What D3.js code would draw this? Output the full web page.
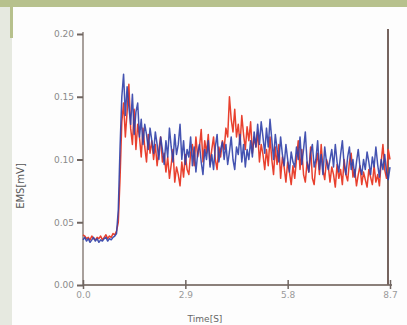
<!DOCTYPE html>
<html>
<head>
<meta charset="utf-8">
<script src="https://cdn.jsdelivr.net/npm/d3@7"></script>
<style>
  body { margin: 0; background: #fdfdfd; }
  svg { display: block; }
</style>
</head>
<body>
<div id="my_dataviz"></div>
<script>
// Data (time in seconds, step 0.05 s; EMS in mV)
var times = d3.range(0, 175).map(function(i) { return +(i * 0.05).toFixed(2); });

var redValues = [
  0.040, 0.039, 0.037, 0.038, 0.036, 0.039, 0.037, 0.036, 0.038, 0.037, 0.039, 0.036, 0.038, 0.040, 0.037, 0.039, 0.038, 0.041, 0.040, 0.043,
  0.050, 0.085, 0.130, 0.145, 0.118, 0.138, 0.160, 0.125, 0.112, 0.140, 0.108, 0.128, 0.118, 0.102, 0.125, 0.110, 0.098, 0.120, 0.105, 0.115,
  0.100, 0.112, 0.095, 0.108, 0.118, 0.098, 0.105, 0.090, 0.102, 0.085, 0.096, 0.108, 0.082, 0.094, 0.088, 0.079, 0.098, 0.086, 0.104, 0.092,
  0.088, 0.105, 0.112, 0.095, 0.118, 0.102, 0.110, 0.124, 0.098, 0.115, 0.105, 0.120, 0.096, 0.108, 0.118, 0.100, 0.092, 0.110, 0.102, 0.115,
  0.108, 0.125, 0.118, 0.150, 0.132, 0.122, 0.140, 0.118, 0.128, 0.112, 0.135, 0.120, 0.108, 0.126, 0.115, 0.130, 0.105, 0.118, 0.110, 0.122,
  0.098, 0.112, 0.104, 0.092, 0.108, 0.095, 0.118, 0.100, 0.088, 0.110, 0.096, 0.112, 0.085, 0.102, 0.094, 0.082, 0.098, 0.090, 0.080, 0.095,
  0.085, 0.100, 0.115, 0.092, 0.108, 0.088, 0.082, 0.098, 0.090, 0.110, 0.085, 0.080, 0.096, 0.105, 0.088, 0.112, 0.092, 0.084, 0.100, 0.095,
  0.082, 0.094, 0.088, 0.078, 0.096, 0.085, 0.092, 0.080, 0.100, 0.088, 0.083, 0.098, 0.105, 0.086, 0.092, 0.079, 0.088, 0.095, 0.080, 0.090,
  0.084, 0.078, 0.092, 0.086, 0.080, 0.095, 0.082, 0.088, 0.079, 0.098, 0.112, 0.092, 0.085, 0.108, 0.100
];

var blueValues = [
  0.036, 0.038, 0.035, 0.037, 0.034, 0.036, 0.038, 0.035, 0.037, 0.034, 0.036, 0.035, 0.037, 0.038, 0.035, 0.037, 0.036, 0.038, 0.039, 0.041,
  0.060, 0.110, 0.150, 0.168, 0.135, 0.158, 0.142, 0.128, 0.152, 0.120, 0.138, 0.145, 0.118, 0.132, 0.112, 0.128, 0.120, 0.108, 0.125, 0.115,
  0.105, 0.122, 0.112, 0.100, 0.118, 0.108, 0.096, 0.115, 0.102, 0.125, 0.110, 0.098, 0.120, 0.104, 0.112, 0.128, 0.100, 0.115, 0.096, 0.108,
  0.102, 0.118, 0.095, 0.110, 0.090, 0.105, 0.112, 0.098, 0.088, 0.108, 0.100, 0.115, 0.094, 0.104, 0.092, 0.110, 0.120, 0.098, 0.108, 0.114,
  0.100, 0.112, 0.096, 0.106, 0.118, 0.100, 0.092, 0.110, 0.104, 0.120, 0.098, 0.112, 0.094, 0.108, 0.100, 0.115, 0.102, 0.122, 0.110, 0.128,
  0.112, 0.130, 0.118, 0.105, 0.125, 0.110, 0.132, 0.116, 0.100, 0.120, 0.108, 0.098, 0.118, 0.104, 0.095, 0.112, 0.100, 0.090, 0.106, 0.098,
  0.094, 0.110, 0.100, 0.118, 0.096, 0.108, 0.122, 0.098, 0.090, 0.105, 0.112, 0.094, 0.100, 0.115, 0.092, 0.104, 0.088, 0.110, 0.098, 0.092,
  0.100, 0.108, 0.094, 0.112, 0.098, 0.090, 0.104, 0.115, 0.096, 0.088, 0.102, 0.110, 0.092, 0.100, 0.086, 0.098, 0.108, 0.094, 0.088, 0.100,
  0.092, 0.106, 0.098, 0.088, 0.102, 0.094, 0.110, 0.096, 0.086, 0.100, 0.092, 0.104, 0.090, 0.084, 0.094
];

var xTicks = [0, 2.9, 5.8, 8.7];
var xTickLabels = ["0.0", "2.9", "5.8", "8.7"];
var yTicks = [0, 0.05, 0.10, 0.15, 0.20];
var yTickLabels = ["0.00", "0.05", "0.10", "0.15", "0.20"];

var width = 407;
var height = 325;

var svg = d3.select("#my_dataviz")
  .append("svg")
  .attr("width", width)
  .attr("height", height);

// Backdrop: textured left strip and green band on top
svg.append("rect").attr("x", 0).attr("y", 0).attr("width", width).attr("height", height).attr("fill", "#fdfdfd");
svg.append("rect").attr("x", 0).attr("y", 0).attr("width", 12).attr("height", height).attr("fill", "#e6e9e0");
svg.append("rect").attr("x", 0).attr("y", 0).attr("width", width).attr("height", 7).attr("fill", "#b7c18d");
svg.append("rect").attr("x", 10).attr("y", 0).attr("width", 3).attr("height", 38).attr("fill", "#b7c18d");

// Scales
var x = d3.scaleLinear().domain([0, 8.7]).range([83, 390]);
var y = d3.scaleLinear().domain([0, 0.20]).range([285, 34]);

var axisColor = "#8b807b";

// Y axis
var yAxis = d3.axisLeft(y)
  .tickValues(yTicks)
  .tickFormat(function(d, i) { return yTickLabels[i]; })
  .tickSize(6)
  .tickPadding(3);

var gy = svg.append("g")
  .attr("transform", "translate(" + x(0) + ",0)")
  .call(yAxis);
gy.select(".domain").attr("stroke", axisColor).attr("stroke-width", 1.5).attr("d", "M0," + y(0) + "V" + (y(0.20) - 2));
gy.selectAll(".tick line").attr("stroke", "#6f6560").attr("stroke-width", 2);
gy.selectAll(".tick text")
  .attr("fill", "#8a8a8a")
  .style("font-family", "DejaVu Sans")
  .style("font-size", "9px");

// X axis
var xAxis = d3.axisBottom(x)
  .tickValues(xTicks)
  .tickFormat(function(d, i) { return xTickLabels[i]; })
  .tickSize(0)
  .tickPadding(7);

var gx = svg.append("g")
  .attr("transform", "translate(0," + y(0) + ")")
  .call(xAxis);
gx.select(".domain").attr("stroke", axisColor).attr("stroke-width", 2).attr("d", "M" + x(0) + ",0H" + (x(8.7) + 2));
gx.selectAll(".tick line").attr("y1", -5).attr("y2", 4).attr("stroke", "#6f6560").attr("stroke-width", 1.5);
gx.selectAll(".tick text")
  .attr("fill", "#9a9a9a")
  .style("font-family", "DejaVu Sans")
  .style("font-size", "9px");

// Right frame line
svg.append("line")
  .attr("x1", x(8.7) - 2).attr("x2", x(8.7) - 2)
  .attr("y1", y(0)).attr("y2", y(0.20) - 5)
  .attr("stroke", "#75645f")
  .attr("stroke-width", 2);

// Series lines
var line = d3.line()
  .x(function(d) { return x(d.t); })
  .y(function(d) { return y(d.v); });

var redData = times.map(function(t, i) { return { t: t, v: redValues[i] }; });
var blueData = times.map(function(t, i) { return { t: t, v: blueValues[i] }; });

svg.append("path")
  .datum(redData)
  .attr("fill", "none")
  .attr("stroke", "#e8402e")
  .attr("stroke-width", 1.5)
  .attr("stroke-linejoin", "round")
  .attr("d", line);

svg.append("path")
  .datum(blueData)
  .attr("fill", "none")
  .attr("stroke", "#3040a8")
  .attr("stroke-width", 1.5)
  .attr("stroke-linejoin", "round")
  .attr("opacity", 0.9)
  .attr("d", line);

// Axis titles
svg.append("text")
  .attr("transform", "translate(24,186) rotate(-90)")
  .attr("text-anchor", "middle")
  .attr("fill", "#555")
  .style("font-family", "DejaVu Sans")
  .style("font-size", "10px")
  .text("EMS[mV]");

svg.append("text")
  .attr("x", 205)
  .attr("y", 322)
  .attr("text-anchor", "middle")
  .attr("fill", "#666")
  .style("font-family", "DejaVu Sans")
  .style("font-size", "9px")
  .text("Time[S]");
</script>
</body>
</html>
